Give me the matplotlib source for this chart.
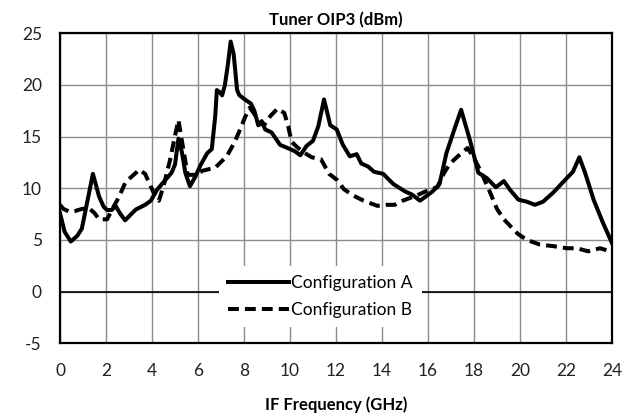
import matplotlib
matplotlib.use("Agg")
import matplotlib.pyplot as plt

plt.rcParams["font.family"] = ["Lato", "DejaVu Sans"]
plt.rcParams["axes.unicode_minus"] = False

# IF frequency (GHz) and tuner OIP3 (dBm), configuration A
freq_a = [0, 0.2, 0.47, 0.75, 0.95, 1.15, 1.43, 1.7, 1.9, 2.05, 2.25, 2.42, 2.6,
          2.83, 3.05, 3.3, 3.7, 3.95, 4.2, 4.5, 4.85, 5.0, 5.15, 5.3, 5.45, 5.65,
          5.9, 6.1, 6.4, 6.6, 6.75, 6.82, 6.95, 7.05, 7.17, 7.3, 7.42, 7.55, 7.7,
          7.8, 8.1, 8.3, 8.45, 8.62, 8.77, 8.92, 9.2, 9.57, 10.0, 10.2, 10.45,
          10.72, 11.0, 11.23, 11.48, 11.75, 12.03, 12.3, 12.6, 12.9, 13.1, 13.4,
          13.65, 14.05, 14.5, 15.0, 15.3, 15.65, 15.9, 16.2, 16.5, 16.8, 17.1,
          17.44, 17.83, 18.19, 18.55, 18.95, 19.3, 19.55, 19.93, 20.3, 20.65,
          21.0, 21.45, 22.0, 22.3, 22.58, 22.83, 23.2, 23.6, 24.0]
oip3_a = [7.6, 5.8, 4.85, 5.4, 6.1, 8.3, 11.4, 9.2, 8.2, 7.9, 7.9, 8.3, 7.6,
          6.9, 7.4, 7.95, 8.4, 8.8, 9.8, 10.6, 11.5, 12.3, 14.8, 13.5, 11.5, 10.2,
          11.2, 12.2, 13.4, 13.8, 17.0, 19.5, 19.3, 19.0, 20.0, 22.0, 24.2, 23.0, 19.5,
          19.0, 18.5, 18.2, 17.5, 16.1, 16.5, 15.7, 15.4, 14.2, 13.8, 13.6, 13.2,
          14.1, 14.6, 16.0, 18.6, 16.1, 15.7, 14.2, 13.1, 13.3, 12.4, 12.1,
          11.6, 11.4, 10.4, 9.7, 9.4, 8.8, 9.2, 9.7, 10.4, 13.4, 15.4,
          17.6, 14.6, 11.5, 11.0, 10.1, 10.7, 9.9, 8.9, 8.7, 8.4,
          8.7, 9.6, 10.9, 11.6, 13.0, 11.5, 8.9, 6.7, 4.7]

# configuration B
freq_b = [0, 0.15, 0.4, 0.65, 0.95, 1.25, 1.5, 1.7, 2.05, 2.3, 2.55, 2.83, 3.05,
          3.45, 3.7, 3.9, 4.15, 4.3, 4.5, 4.78, 5.05, 5.15, 5.3, 5.55, 5.9, 6.2,
          6.75, 7.25, 7.6, 7.85, 8.05, 8.25, 8.45, 8.65, 8.9, 9.15, 9.45, 9.75,
          9.92, 10.07, 10.3, 10.65, 10.95, 11.35, 11.7, 12.05, 12.35, 12.75, 13.2,
          13.8, 14.2, 14.55, 14.9, 15.5, 16.0, 16.4, 16.7, 16.96, 17.25, 17.72,
          17.98, 18.26, 18.7, 19.0, 19.3, 19.6, 19.9, 20.3, 20.87, 21.45, 22.03,
          22.46, 22.97, 23.48, 23.77, 24.0]
oip3_b = [8.4, 8.0, 7.75, 7.8, 8.0, 8.1, 7.6, 7.0, 7.0, 8.1, 9.1, 10.5, 11.0,
          11.8, 11.4, 10.4, 9.2, 8.8, 10.2, 12.7, 15.6, 16.6, 14.6, 11.3, 11.3, 11.7,
          12.0, 13.1, 14.5, 15.8, 16.9, 17.8, 17.2, 16.2, 16.2, 17.0, 17.7, 17.3,
          16.0, 14.5, 14.0, 13.4, 13.0, 12.8, 11.4, 10.8, 9.9, 9.3, 8.8,
          8.3, 8.4, 8.4, 8.8, 9.3, 9.8, 10.1, 11.5, 12.4, 13.0, 13.9,
          13.0, 11.8, 9.6, 8.0, 7.0, 6.3, 5.6, 5.0, 4.55, 4.4, 4.2,
          4.2, 3.9, 4.2, 4.0, 3.8]

x_ticks = list(range(0, 25, 2))
y_ticks = list(range(-5, 26, 5))
series_names = ["Configuration A", "Configuration B"]

fig = plt.figure(figsize=(6.42, 4.18), dpi=100)
ax = fig.add_axes([60 / 642, 1 - 343.3 / 418, 552 / 642, 310 / 418])

ax.plot(freq_a, oip3_a, color="black", lw=2.9, solid_joinstyle="round",
        label=series_names[0], zorder=3)
ax.plot(freq_b, oip3_b, color="black", lw=2.9, linestyle=(0, (2.7, 1.5)),
        dash_capstyle="butt", label=series_names[1], zorder=3)

ax.axhline(0, color="black", lw=1.2, zorder=2)

ax.set_xlim(0, 24)
ax.set_ylim(-5, 25)
ax.set_xticks(x_ticks)
ax.set_yticks(y_ticks)
ax.grid(True, color="#8c8c8c", lw=1.0, zorder=1)
ax.set_axisbelow(True)
ax.tick_params(length=0, labelsize=12.5, colors="#222222")
ax.tick_params(axis="x", pad=14)
ax.tick_params(axis="y", pad=13)
for s in ax.spines.values():
    s.set_linewidth(1.6)
    s.set_color("black")

ax.set_title("Tuner OIP3 (dBm)", fontsize=12, fontweight="bold", pad=6)
ax.set_xlabel("IF Frequency (GHz)", fontsize=12, fontweight="bold", labelpad=13)

leg = ax.legend(loc="center", bbox_to_anchor=(0.472, 0.15), frameon=True,
                fontsize=12.5, handlelength=3.5, handletextpad=0.15,
                labelspacing=0.65, borderpad=0.5, fancybox=False)
leg.get_frame().set_facecolor("white")
leg.get_frame().set_edgecolor("none")
leg.get_frame().set_alpha(1.0)
leg.set_zorder(5)

fig.savefig("out.png", dpi=100)
